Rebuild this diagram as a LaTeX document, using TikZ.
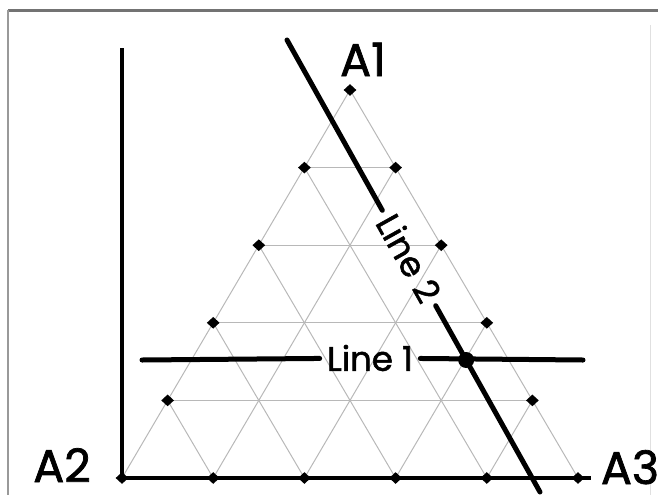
\documentclass[tikz,border=0pt]{standalone}
\usepackage{fontspec}
\setmainfont{Poppins}[AutoFakeBold=1.6]
\usepackage{tikz}
\usetikzlibrary{calc,shapes.geometric}

\begin{document}
\begin{tikzpicture}[x=0.5pt,y=0.5pt,
 grid/.style={draw=black!28,line width=0.5pt},
 heavy/.style={line width=2.5pt,line cap=round},
 knot/.style={diamond,fill=black,inner sep=0pt,minimum width=6.5pt,minimum height=6pt},
 corner/.style={anchor=base,inner sep=0pt,font=\fontsize{23}{26}\selectfont\bfseries},
 tag/.style={font=\fontsize{17}{19}\selectfont\bfseries,inner sep=3.5pt}]
 \useasboundingbox (0,0) rectangle (658,495);
 % frame
 \draw[black!55,line width=1.5pt] (8,485) -- (658,485);
 \draw[black!40,line width=1pt] (8,485) -- (8,0);
 \draw[black!12,line width=0.5pt] (650,470) -- (650,0);
 % triangle corners
 \coordinate (A2) at (122,17);
 \coordinate (A3) at (578,17);
 \coordinate (A1) at (350,405);
 \foreach \k in {1,...,4}{
 \coordinate (b\k) at ($(A2)!\k/5!(A3)$);
 \coordinate (l\k) at ($(A2)!\k/5!(A1)$);
 \coordinate (r\k) at ($(A3)!\k/5!(A1)$);
 }
 % grid
 \draw[grid] (A2) -- (A1) -- (A3);
 \foreach \k [evaluate=\k as \m using int(5-\k)] in {1,...,4}{
 \draw[grid] (l\k) -- (r\k);
 \draw[grid] (b\k) -- (l\k);
 \draw[grid] (b\k) -- (r\m);
 }
 % axes
 \coordinate (ytop) at (122,447);
 \coordinate (ybot) at (122,15);
 \coordinate (xwest) at (118,17);
 \coordinate (xeast) at (591,17);
 \draw[line width=2.2pt] (ytop) -- (ybot);
 \draw[line width=2.2pt] (xwest) -- (xeast);
 % knots
 \foreach \k in {1,...,4}{
 \node[knot] at (b\k) {};
 \node[knot] at (l\k) {};
 \node[knot] at (r\k) {};
 }
 \node[knot] at (A1) {};
 \node[knot] at (A3) {};
 \node[knot] at (A2) {};
 % corner labels
 \node[corner] (labA1) at (363,419) {A1};
 \node[corner] (labA2) at (62,13) {A2};
 \node[corner] (labA3) at (630,11) {A3};
 % Line 1
 \coordinate (l1w) at (142,135);
 \coordinate (l1e) at (583,135);
 \node[tag] (line1) at (370,137) {Line 1};
 \draw[heavy] (l1w) -- (line1);
 \draw[heavy] (line1) -- (l1e);
 % Line 2
 \coordinate (l2n) at (287,455);
 \coordinate (l2s) at (540,3);
 \node[tag,rotate=-60.8] (line2) at (409,237) {Line 2};
 \draw[heavy] (l2n) -- (line2);
 \draw[heavy] (line2) -- (l2s);
 % crossing point
 \node[circle,fill=black,inner sep=0pt,minimum size=8pt] (cross)
 at (intersection of l1w--l1e and l2n--l2s) {};
\end{tikzpicture}
\end{document}
